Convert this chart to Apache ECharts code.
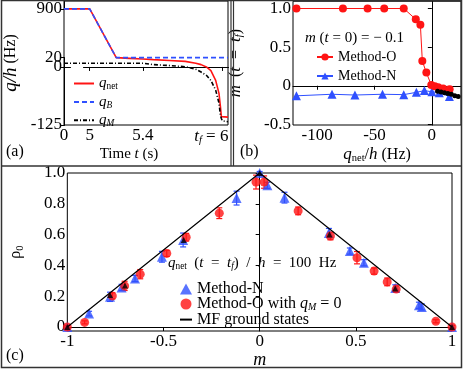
<!DOCTYPE html>
<html>
<head>
<meta charset="utf-8">
<script src="https://cdn.jsdelivr.net/npm/echarts@6.0.0/dist/echarts.min.js"></script>
<style>
html, body { margin: 0; padding: 0; background: #fff; }
#main { width: 463px; height: 371px; }
</style>
</head>
<body>
<div id="main"></div>
<script>
// (a) q/h versus time
var tNet = [0, 5, 5.2, 5.3, 5.4, 5.48, 5.6, 5.72, 5.8, 5.84, 5.88, 5.914, 5.95, 5.975, 5.986, 5.993, 6.0, 6.043];
var qNet = [900, 900, 20, 18.5, 17, 15.7, 14, 12, 8, 5, 0, -8, -29, -57, -86, -107, -108, -108];
var tB = [0, 5, 5.2, 6.043];
var qB = [900, 900, 20, 20];
var tM = [0, 5.4, 5.41, 5.48, 5.6, 5.72, 5.8, 5.84, 5.88, 5.914, 5.95, 5.975, 5.986, 5.993, 6.0, 6.043];
var qM = [8, 8, 5, 5, 3, 0.5, -5, -11, -18, -29, -50, -78, -104, -111, -116, -118];
var aTicksX = [0, 5, 5.4, 6];
var aTicksY = [-125, 0, 20, 900];

// (b) m(t = tf) versus qnet/h
var oQ = [-118, -77.5, -56, -41.5, -24.5, -14, -10, -8.3, -4.8, -0.5, 2.5, 5.5, 9.8, 15.5];
var oM = [1, 1, 1, 1, 1, 0.86, 0.79, 0.32, 0.17, 0.01, -0.005, -0.02, -0.035, -0.045];
var nQ = [-118, -87, -67, -43, -24.5, -13.5, -6.5, 0, 6.5, 15.3];
var nM = [-0.13, -0.11, -0.12, -0.11, -0.115, -0.085, -0.063, -0.078, -0.09, -0.14];
var kQ = [5, 8, 11, 14, 17, 20, 23];
var kM = [-0.07, -0.08, -0.09, -0.1, -0.11, -0.13, -0.14];
var bTicksX = [-100, -50, 0];
var bTicksY = [-0.5, 0, 0.5, 1.0];

// (c) rho0 versus m
var cnM = [-1, -0.887, -0.778, -0.718, -0.648, -0.508, -0.398, -0.12, 0, 0.04, 0.129, 0.36, 0.469, 0.542, 0.705, 0.828, 0.843, 1];
var cnRho = [0, 0.087, 0.196, 0.257, 0.315, 0.456, 0.565, 0.837, 1.0, 0.92, 0.84, 0.61, 0.493, 0.417, 0.254, 0.141, 0.13, 0];
var cnErr = [0.01, 0.015, 0.03, 0.02, 0.02, 0.035, 0.045, 0.045, 0.01, 0.02, 0.035, 0.03, 0.02, 0.02, 0.02, 0.02, 0.02, 0.01];
var coM = [-1, -0.91, -0.766, -0.702, -0.621, -0.483, -0.382, -0.21, -0.019, 0.023, 0.2, 0.368, 0.506, 0.595, 0.663, 0.71, 0.916, 1];
var coRho = [0, 0.03, 0.202, 0.267, 0.343, 0.478, 0.583, 0.739, 0.941, 0.941, 0.754, 0.591, 0.45, 0.363, 0.293, 0.246, 0.037, 0];
var coErr = [0.01, 0.01, 0.02, 0.03, 0.03, 0.02, 0.025, 0.035, 0.045, 0.04, 0.025, 0.025, 0.04, 0.02, 0.025, 0.02, 0.01, 0.01];
var mfM = [-1, -0.778, -0.70, -0.395, 0, 0.363, 0.705, 1];
var mfRho = [0, 0.207, 0.27, 0.565, 1, 0.6, 0.25, 0];
var lineM = [-1, 0, 1];
var lineRho = [0, 1, 0];
var cTicksY = [0, 0.2, 0.4, 0.6, 0.8, 1.0];

var FONT = 'Liberation Serif';
var RED = '#ff1414';
var BLUE = '#2f50ff';

function pairs(xs, ys) {
    return xs.map(function (x, i) { return [x, ys[i]]; });
}
function bars(xs, ys, es) {
    return xs.map(function (x, i) { return [x, ys[i] - es[i], ys[i] + es[i]]; });
}
function richSet(size) {
    return {
        i: { fontFamily: FONT, fontStyle: 'italic', fontSize: size, color: '#000' },
        n: { fontFamily: FONT, fontSize: size, color: '#000' },
        s: { fontFamily: FONT, fontSize: size * 0.62, color: '#000', verticalAlign: 'bottom', padding: [size * 0.45, 0, 0, 0] },
        si: { fontFamily: FONT, fontStyle: 'italic', fontSize: size * 0.62, color: '#000', verticalAlign: 'bottom', padding: [size * 0.45, 0, 0, 0] },
        sp: { width: 22 }
    };
}
function errorBars(color) {
    return function (params, api) {
        var lo = api.coord([api.value(0), api.value(1)]);
        var hi = api.coord([api.value(0), api.value(2)]);
        var w = 3;
        var st = { stroke: color, lineWidth: 1.2 };
        return {
            type: 'group',
            children: [
                { type: 'line', shape: { x1: lo[0], y1: lo[1], x2: hi[0], y2: hi[1] }, style: st },
                { type: 'line', shape: { x1: lo[0] - w, y1: lo[1], x2: lo[0] + w, y2: lo[1] }, style: st },
                { type: 'line', shape: { x1: hi[0] - w, y1: hi[1], x2: hi[0] + w, y2: hi[1] }, style: st }
            ]
        };
    };
}
function axisBase(extra) {
    var base = {
        type: 'value',
        axisLine: { show: true, lineStyle: { color: '#000', width: 1 } },
        axisTick: { show: true, inside: false, length: 4, lineStyle: { color: '#000' } },
        axisLabel: { fontFamily: FONT, fontSize: 17, color: '#000', margin: 2 },
        splitLine: { show: false },
        nameLocation: 'middle',
        nameTextStyle: { fontFamily: FONT, fontSize: 16, color: '#000' }
    };
    for (var k in extra) {
        if (typeof extra[k] === 'object' && base[k] && !Array.isArray(extra[k])) {
            for (var j in extra[k]) base[k][j] = extra[k][j];
        } else {
            base[k] = extra[k];
        }
    }
    return base;
}

var legendNames = {
    qnet: '{i|q}{s|net}',
    qB: '{i|q}{si|B}',
    qM: '{i|q}{si|M}',
    bO: 'Method-O',
    bN: 'Method-N',
    cN: 'Method-N',
    cO: 'Method-O with {i|q}{si|M} = 0',
    cMF: 'MF ground states'
};

var chart = echarts.init(document.getElementById('main'));
var option = {
    animation: false,
    backgroundColor: '#fff',
    grid: [
        { left: 56, top: 1, width: 172, height: 124, show: true, borderColor: '#000', borderWidth: 1 },
        { left: 293, top: 1, width: 168, height: 124, show: true, borderColor: '#000', borderWidth: 1 },
        { left: 56, top: 173, width: 396, height: 158, show: true, borderColor: '#000', borderWidth: 1 }
    ],
    title: [
        { text: '{i|m} ({i|t} = 0) = − 0.1', left: 300, top: 26, textStyle: { fontFamily: FONT, fontSize: 15, fontWeight: 'normal', color: '#000', rich: richSet(15) } },
        { text: '{i|q}{s|net}  ({i|t}  =  {i|t}{si|f})  /  {i|h}  =  100  Hz', left: 163, top: 250, textStyle: { fontFamily: FONT, fontSize: 15, fontWeight: 'normal', color: '#000', rich: richSet(15) } }
    ],
    legend: [
        {
            data: ['qnet', 'qB', 'qM'], left: 68, top: 71, orient: 'vertical',
            itemWidth: 20, itemHeight: 12, itemGap: 3, itemStyle: { opacity: 0 },
            formatter: function (n) { return legendNames[n]; },
            textStyle: { fontFamily: FONT, fontSize: 15, color: '#000', rich: richSet(15) }
        },
        {
            data: ['bO', 'bN'], left: 311, top: 45, orient: 'vertical',
            itemWidth: 16, itemHeight: 9, itemGap: 5,
            formatter: function (n) { return legendNames[n]; },
            textStyle: { fontFamily: FONT, fontSize: 14, color: '#000' }
        },
        {
            data: ['cN', 'cO', { name: 'cMF', itemStyle: { opacity: 0 } }], left: 174, top: 276, orient: 'vertical',
            itemWidth: 12, itemHeight: 11, itemGap: -1,
            formatter: function (n) { return legendNames[n]; },
            textStyle: { fontFamily: FONT, fontSize: 16, color: '#000', rich: richSet(16) }
        }
    ],
    xAxis: [
        axisBase({
            gridIndex: 0, min: 0, max: 6.043,
            breaks: [{ start: 0.05, end: 4.95, gap: 0.094 }],
            breakArea: { show: false },
            axisTick: { customValues: aTicksX },
            axisLabel: {
                customValues: aTicksX, rich: richSet(17),
                formatter: function (v) { return v === 6 ? '{i|t}{si|f} = 6{sp|}' : String(v); }
            },
            name: 'Time {i|t} (s)', nameGap: 20,
            nameTextStyle: { fontSize: 15, rich: richSet(15), padding: [0, 34, 0, 0] }
        }),
        axisBase({
            gridIndex: 1, min: -121, max: 25.4,
            axisTick: { customValues: bTicksX },
            axisLabel: { customValues: bTicksX },
            name: '{i|q}{s|net}/{i|h} (Hz)', nameGap: 20,
            nameTextStyle: { rich: richSet(17) }
        }),
        axisBase({
            gridIndex: 2, min: -1, max: 1, interval: 0.5,
            name: '{i|m}', nameGap: 19,
            nameTextStyle: { rich: richSet(18) }
        })
    ],
    yAxis: [
        axisBase({
            gridIndex: 0, min: -125, max: 917,
            breaks: [{ start: 20, end: 900, gap: 105 }],
            breakArea: { show: false },
            axisTick: { customValues: aTicksY },
            axisLabel: { customValues: aTicksY },
            name: '{i|q/h} (Hz)', nameGap: 44,
            nameTextStyle: { rich: richSet(19) }
        }),
        axisBase({
            gridIndex: 1, min: -0.508, max: 1.094,
            axisTick: { customValues: bTicksY },
            axisLabel: {
                customValues: bTicksY,
                formatter: function (v) { return v === 0 ? '0' : v.toFixed(1); }
            },
            name: '{i|m}  ({i|t}  =  {i|t}{si|f})', nameGap: 48,
            nameTextStyle: { rich: richSet(17) }
        }),
        axisBase({
            gridIndex: 2, min: -0.026, max: 1.0,
            axisTick: { customValues: cTicksY },
            axisLabel: {
                customValues: cTicksY,
                formatter: function (v) { return v === 0 ? '0' : v.toFixed(1); }
            },
            name: 'ρ{s|0}', nameGap: 42,
            nameTextStyle: { rich: richSet(17) }
        })
    ],
    series: [
        { name: 'qnet', type: 'line', xAxisIndex: 0, yAxisIndex: 0, data: pairs(tNet, qNet), showSymbol: false, symbol: 'none',
          lineStyle: { color: RED, width: 1.6 }, itemStyle: { color: RED } },
        { name: 'qB', type: 'line', xAxisIndex: 0, yAxisIndex: 0, data: pairs(tB, qB), showSymbol: false, symbol: 'none',
          lineStyle: { color: BLUE, width: 1.6, type: [5, 3] }, itemStyle: { color: BLUE } },
        { name: 'qM', type: 'line', xAxisIndex: 0, yAxisIndex: 0, data: pairs(tM, qM), showSymbol: false, symbol: 'none',
          lineStyle: { color: '#000', width: 1.6, type: [4, 2, 1, 2] }, itemStyle: { color: '#000' } },

        { name: 'bN', type: 'line', xAxisIndex: 1, yAxisIndex: 1, data: pairs(nQ, nM), symbol: 'triangle', symbolSize: 9,
          lineStyle: { color: BLUE, width: 1 }, itemStyle: { color: BLUE } },
        { name: 'bO', type: 'line', xAxisIndex: 1, yAxisIndex: 1, data: pairs(oQ, oM), symbol: 'circle', symbolSize: 8,
          lineStyle: { color: RED, width: 1 }, itemStyle: { color: RED } },
        { name: 'bK', type: 'line', xAxisIndex: 1, yAxisIndex: 1, data: pairs(kQ, kM), symbol: 'circle', symbolSize: 5,
          lineStyle: { color: '#000', width: 0.8 }, itemStyle: { color: '#000' } },

        { name: 'cMF', type: 'line', xAxisIndex: 2, yAxisIndex: 2, data: pairs(lineM, lineRho), symbol: 'none',
          lineStyle: { color: '#000', width: 1.2 }, itemStyle: { color: '#000' } },
        { name: 'cNerr', type: 'custom', xAxisIndex: 2, yAxisIndex: 2, data: bars(cnM, cnRho, cnErr), renderItem: errorBars(BLUE) },
        { name: 'cOerr', type: 'custom', xAxisIndex: 2, yAxisIndex: 2, data: bars(coM, coRho, coErr), renderItem: errorBars(RED) },
        { name: 'cN', type: 'scatter', xAxisIndex: 2, yAxisIndex: 2, data: pairs(cnM, cnRho), symbol: 'triangle', symbolSize: 10,
          itemStyle: { color: BLUE } },
        { name: 'cO', type: 'scatter', xAxisIndex: 2, yAxisIndex: 2, data: pairs(coM, coRho), symbol: 'circle', symbolSize: 9,
          itemStyle: { color: RED } },
        { name: 'cK', type: 'scatter', xAxisIndex: 2, yAxisIndex: 2, data: pairs(mfM, mfRho), symbol: 'triangle', symbolSize: 6,
          itemStyle: { color: '#000' } }
    ],
    graphic: [
        { type: 'rect', shape: { x: 1.5, y: 0.5, width: 460, height: 367 }, style: { fill: null, stroke: '#333', lineWidth: 1.5 }, z: 100 },
        { type: 'line', shape: { x1: 1.5, y1: 166, x2: 461.5, y2: 166 }, style: { stroke: '#333', lineWidth: 1.5 }, z: 100 },
        { type: 'line', shape: { x1: 231, y1: 0, x2: 231, y2: 166 }, style: { stroke: '#333', lineWidth: 1.2 }, z: 100 },
        { type: 'line', shape: { x1: 233.5, y1: 0, x2: 233.5, y2: 166 }, style: { stroke: '#333', lineWidth: 1.2 }, z: 100 },
        { type: 'text', left: 6, top: 144, style: { text: '(a)', font: '16px "Liberation Serif"', fill: '#000' } },
        { type: 'text', left: 240, top: 144, style: { text: '(b)', font: '16px "Liberation Serif"', fill: '#000' } },
        { type: 'text', left: 6, top: 348, style: { text: '(c)', font: '16px "Liberation Serif"', fill: '#000' } }
    ]
};
chart.setOption(option);
</script>
</body>
</html>
